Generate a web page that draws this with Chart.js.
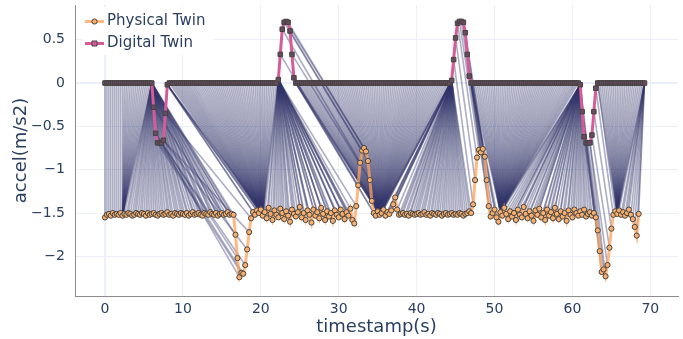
<!DOCTYPE html>
<html>
<head>
<meta charset="utf-8">
<script src="https://cdn.jsdelivr.net/npm/chart.js@4/dist/chart.umd.min.js"></script>
<style>
  html, body { margin: 0; padding: 0; background: #fff; }
  #wrap { width: 683px; height: 339px; }
</style>
</head>
<body>
<div id="wrap"><canvas id="dtwChart" width="683" height="339"></canvas></div>
<script>
// sampling period (s) of both series
const STEP = 0.25;

// Physical Twin accel, t = i*STEP (0 .. 68.5 s)
const physical = [
  -1.55,-1.52,-1.51,-1.53,-1.50,-1.52,-1.51,-1.52,-1.50,-1.53,-1.51,-1.52,-1.50,-1.51,-1.53,-1.52,-1.50,-1.51,-1.52,-1.50,
  -1.51,-1.53,-1.50,-1.52,-1.51,-1.50,-1.52,-1.53,-1.51,-1.50,-1.52,-1.51,-1.49,-1.52,-1.51,-1.53,-1.50,-1.51,-1.52,-1.50,
  -1.51,-1.52,-1.50,-1.53,-1.51,-1.49,-1.52,-1.51,-1.50,-1.52,-1.53,-1.50,-1.51,-1.52,-1.49,-1.51,-1.52,-1.50,-1.53,-1.51,
  -1.50,-1.52,-1.51,-1.49,-1.52,-1.51,-1.52,-1.75,-2.02,-2.24,-2.19,-2.20,-2.10,-1.92,-1.72,-1.56,-1.49,-1.52,-1.47,-1.50,
  -1.46,-1.53,-1.49,-1.56,-1.44,-1.51,-1.58,-1.47,-1.52,-1.55,-1.45,-1.50,-1.57,-1.48,-1.53,-1.60,-1.46,-1.51,-1.54,-1.49,
  -1.43,-1.55,-1.50,-1.58,-1.47,-1.52,-1.61,-1.46,-1.53,-1.49,-1.56,-1.44,-1.51,-1.58,-1.48,-1.54,-1.50,-1.59,-1.47,-1.52,
  -1.55,-1.46,-1.51,-1.57,-1.49,-1.53,-1.45,-1.58,-1.62,-1.42,-1.18,-0.92,-0.78,-0.75,-0.79,-0.90,-1.12,-1.36,-1.50,-1.53,
  -1.48,-1.52,-1.50,-1.46,-1.53,-1.49,-1.51,-1.47,-1.40,-1.32,-1.46,-1.52,-1.51,-1.50,-1.52,-1.51,-1.53,-1.50,-1.51,-1.52,
  -1.51,-1.50,-1.52,-1.51,-1.49,-1.52,-1.51,-1.53,-1.50,-1.51,-1.52,-1.50,-1.51,-1.53,-1.51,-1.50,-1.52,-1.51,-1.50,-1.52,
  -1.51,-1.52,-1.50,-1.51,-1.53,-1.51,-1.50,-1.48,-1.50,-1.40,-1.12,-0.86,-0.77,-0.80,-0.76,-0.85,-1.12,-1.42,-1.54,-1.50,
  -1.46,-1.55,-1.60,-1.49,-1.53,-1.44,-1.51,-1.57,-1.48,-1.54,-1.50,-1.58,-1.46,-1.52,-1.55,-1.43,-1.51,-1.56,-1.48,-1.53,
  -1.59,-1.47,-1.52,-1.45,-1.55,-1.50,-1.58,-1.46,-1.53,-1.49,-1.56,-1.44,-1.51,-1.57,-1.48,-1.54,-1.50,-1.59,-1.47,-1.52,
  -1.55,-1.46,-1.50,-1.53,-1.48,-1.52,-1.46,-1.54,-1.51,-1.49,-1.53,-1.50,-1.55,-1.70,-1.94,-2.18,-2.15,-2.23,-2.10,-1.90,
  -1.68,-1.52,-1.48,-1.51,-1.47,-1.52,-1.49,-1.53,-1.50,-1.46,-1.52,-1.57,-1.66,-1.76,-1.51
];

// Digital Twin accel, t = i*STEP (0 .. 69.25 s)
const digital = [
  0,0,0,0,0,0,0,0,0,0,0,0,0,0,0,0,0,0,0,0,
  0,0,0,0,
  0,-0.28,-0.58,-0.69,-0.69,-0.69,-0.66,-0.35,-0.02,
  0,0,0,0,0,0,0,0,0,0,0,0,0,0,0,0,0,0,0,0,
  0,0,0,0,0,0,0,0,0,0,0,0,0,0,0,0,0,0,0,0,
  0,0,0,0,0,0,0,0,0,0,0,0,0,0,0,0,
  0.04,0.33,0.62,0.70,0.71,0.70,0.60,0.33,0.06,
  0,0,0,0,0,0,0,0,0,0,0,0,0,0,0,0,0,0,0,0,
  0,0,0,0,0,0,0,0,0,0,0,0,0,0,0,0,0,0,0,0,
  0,0,0,0,0,0,0,0,0,0,0,0,0,0,0,0,0,0,0,0,
  0,0,0,0,0,0,0,0,0,0,0,0,0,0,0,0,0,0,0,0,
  0.03,0.27,0.52,0.69,0.71,0.71,0.70,0.58,0.33,0.08,
  0,0,0,0,0,0,0,0,0,0,0,0,0,0,0,0,0,0,0,0,
  0,0,0,0,0,0,0,0,0,0,0,0,0,0,0,0,0,0,0,0,
  0,0,0,0,0,0,0,0,0,0,0,0,0,0,0,0,
  -0.02,-0.33,-0.62,-0.69,-0.69,-0.69,-0.60,-0.33,-0.06,
  0,0,0,0,0,0,0,0,0,0,0,0,0,0,0,0,0,0,0,0,
  0,0,0,0,0
];

// DTW warping path corners [physical index, digital index]
const warpCorners = [
  [0,0],[9,9],[9,24],[66,24],[76,32],[81,32],[81,89],[129,89],[138,98],[141,98],
  [141,178],[188,178],[198,188],[203,188],[203,244],[252,244],[262,253],[263,253],
  [263,277],[274,277]
];

const xTicks = [0, 10, 20, 30, 40, 50, 60, 70];
const yTicks = [-2, -1.5, -1, -0.5, 0, 0.5];

const INK = '#2a3f5f';
const FONT = 'DejaVu Sans';
const PHYS_LINE = 'rgba(255,161,90,0.75)', PHYS_DOT = '#F9AF6B';
const DIG_LINE = '#D65C98', DIG_DOT = '#6a4a5c', DOT_EDGE = '#444444';
const LINK_COLOR = 'rgba(50,52,106,0.4)';

function expandPath(corners) {
  const pairs = [corners[0]];
  for (let c = 1; c < corners.length; c++) {
    const [p0, d0] = corners[c - 1], [p1, d1] = corners[c];
    const n = Math.max(Math.abs(p1 - p0), Math.abs(d1 - d0));
    for (let k = 1; k <= n; k++)
      pairs.push([p0 + Math.round(k * (p1 - p0) / n), d0 + Math.round(k * (d1 - d0) / n)]);
  }
  return pairs;
}

const linkData = [];
expandPath(warpCorners).forEach(([p, d]) => {
  linkData.push({x: p * STEP, y: physical[p]}, {x: d * STEP, y: digital[d]}, {x: d * STEP, y: null});
});

const legendBox = {
  id: 'legendBox',
  afterDraw(chart) {
    const ctx = chart.ctx;
    ctx.save();
    ctx.fillStyle = '#fff';
    ctx.fillRect(82, 7, 132, 48);
    const rows = [
      {y: 21.5, line: PHYS_LINE, dot: PHYS_DOT, shape: 'circle', text: 'Physical Twin'},
      {y: 43.5, line: DIG_LINE, dot: DIG_LINE, shape: 'rect', text: 'Digital Twin'}
    ];
    rows.forEach(r => {
      ctx.strokeStyle = r.line; ctx.lineWidth = 3;
      ctx.beginPath(); ctx.moveTo(85, r.y); ctx.lineTo(104, r.y); ctx.stroke();
      ctx.fillStyle = r.dot; ctx.strokeStyle = DOT_EDGE; ctx.lineWidth = 1;
      ctx.beginPath();
      if (r.shape === 'circle') ctx.arc(94.5, r.y, 2.6, 0, Math.PI * 2);
      else ctx.rect(92, r.y - 2.5, 5, 5);
      ctx.fill(); ctx.stroke();
      ctx.fillStyle = INK; ctx.font = '15px "' + FONT + '"';
      ctx.textBaseline = 'middle';
      ctx.fillText(r.text, 107, r.y);
    });
    ctx.restore();
  }
};

const fmt = v => (v < 0 ? '\u2212' : '') + Math.abs(v);

new Chart(document.getElementById('dtwChart').getContext('2d'), {
  type: 'line',
  data: {
    datasets: [
      { label: 'links', data: linkData, borderColor: LINK_COLOR, borderWidth: 1.6, pointRadius: 0,
        spanGaps: false, segment: { borderColor: () => LINK_COLOR }, order: 3 },
      { label: 'Physical Twin', data: physical.map((v, i) => ({x: i * STEP, y: v})),
        borderColor: PHYS_LINE, borderWidth: 3, pointRadius: 2.6, pointBackgroundColor: PHYS_DOT,
        pointBorderColor: DOT_EDGE, pointBorderWidth: 1, order: 1 },
      { label: 'Digital Twin', data: digital.map((v, i) => ({x: i * STEP, y: v})),
        borderColor: DIG_LINE, borderWidth: 3, pointStyle: 'rect', pointRadius: 3.2,
        pointBackgroundColor: DIG_DOT, pointBorderColor: DOT_EDGE, pointBorderWidth: 1, order: 0 }
    ]
  },
  options: {
    responsive: false, animation: false, devicePixelRatio: 1, events: [],
    layout: { padding: { left: 0, right: 5, top: 5, bottom: 0 } },
    plugins: { legend: { display: false }, tooltip: { enabled: false } },
    scales: {
      x: {
        type: 'linear', min: -3.85, max: 73.55,
        afterBuildTicks: s => { s.ticks = xTicks.map(v => ({value: v})); },
        afterFit: s => { s.height = 43; s.paddingLeft = 0; s.paddingRight = 0; },
        grid: { color: '#EBF0F8', lineWidth: c => (c.tick && c.tick.value === 0 ? 2 : 1), drawTicks: false },
        border: { display: true, color: '#8c8c8c', width: 1 },
        ticks: { color: INK, font: {family: FONT, size: 14}, padding: 5, maxRotation: 0, autoSkip: false },
        title: { display: true, text: 'timestamp(s)', color: INK, font: {family: FONT, size: 18}, padding: {top: 0, bottom: 1} }
      },
      y: {
        min: -2.457, max: 0.9,
        afterBuildTicks: s => { s.ticks = yTicks.map(v => ({value: v})); },
        afterFit: s => { s.width = 75; s.paddingTop = 0; s.paddingBottom = 0; },
        grid: { color: '#EBF0F8', lineWidth: c => (c.tick && c.tick.value === 0 ? 2 : 1), drawTicks: false },
        border: { display: true, color: '#8c8c8c', width: 1 },
        ticks: { color: INK, font: {family: FONT, size: 14}, padding: 10, callback: fmt },
        title: { display: true, text: 'accel(m/s2)', color: INK, font: {family: FONT, size: 18}, padding: {top: 11, bottom: 0} }
      }
    }
  },
  plugins: [legendBox]
});
</script>
</body>
</html>
